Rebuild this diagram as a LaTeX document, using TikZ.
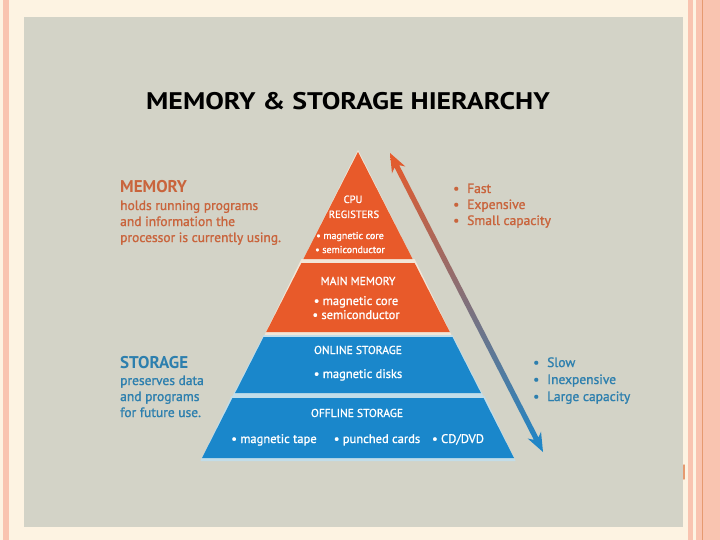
\documentclass[tikz,border=0pt]{standalone}
\usepackage{fontspec}
\setmainfont{PT Sans}
\newfontfamily\semibf[FakeBold=1.2]{PT Sans}
\usetikzlibrary{calc}
\definecolor{slidecream}{HTML}{FDF3E2}
\definecolor{slidesalmon}{HTML}{F9C4B0}
\definecolor{slideline}{HTML}{E69A70}
\definecolor{panelgray}{HTML}{D3D3C7}
\definecolor{memorange}{HTML}{E85A2A}
\definecolor{storblue}{HTML}{1A87CB}
\definecolor{memtext}{HTML}{C9643C}
\definecolor{stortext}{HTML}{2D7FAE}
\definecolor{gapcream}{HTML}{F2E6D8}
\definecolor{gapblue}{HTML}{C2DDE9}
\definecolor{arrmid}{HTML}{8C7C88}
\tikzset{
  sidehead/.style={anchor=base west, inner sep=0pt, font=\fontsize{17}{20}\selectfont\bfseries},
  sideline/.style={anchor=base west, inner sep=0pt, font=\fontsize{13.5}{16}\selectfont\semibf},
  layerhead/.style={anchor=base, inner sep=0pt, text=white, font=\fontsize{11.5}{13}\selectfont\semibf},
  layeritem/.style={anchor=base, inner sep=0pt, text=white, font=\fontsize{12.5}{14}\selectfont\semibf},
  tophead/.style={layerhead, font=\fontsize{10.5}{12}\selectfont\semibf},
  topitem/.style={layeritem, font=\fontsize{10}{12}\selectfont\semibf},
  pointitem/.style={anchor=base west, inner sep=0pt, font=\fontsize{13.5}{15}\selectfont\semibf},
}
\begin{document}
\begin{tikzpicture}[x=1pt,y=-1pt]
\useasboundingbox (0,0) rectangle (720,540);
% slide background and borders
\fill[slidecream] (0,0) rectangle (720,540);
\fill[slidesalmon] (3,0) rectangle (9,540);
\fill[slidesalmon] (688,0) rectangle (693,540);
\fill[slidesalmon] (696,0) rectangle (720,540);
\fill[slideline] (702,0) rectangle (703,540);
\fill[panelgray] (24,17) rectangle (683,527);
\draw[slideline, line width=1.5pt, line cap=round] (684,465) -- (684,479);

% title
\node[anchor=base, inner sep=0pt, xscale=1.16, font=\fontsize{24}{26}\selectfont\bfseries] (title) at (348,110){MEMORY \& STORAGE HIERARCHY};

% pyramid
\fill[gapcream] (358,150) -- (414.6,263) -- (301.4,263) -- cycle;
\fill[gapcream] (301.4,259) -- (414.6,259) -- (452.4,337) -- (263.6,337) -- cycle;
\fill[gapblue] (263.6,335) -- (452.4,335) -- (484.5,398) -- (231.5,398) -- cycle;
\fill[gapblue] (231.5,396) -- (484.5,396) -- (515.5,461) -- (200.5,461) -- cycle;
\fill[memorange] (358,152) -- (412.6,259) -- (303.4,259) -- cycle;
\fill[memorange] (301.4,263) -- (414.6,263) -- (449.8,332) -- (266.2,332) -- cycle;
\fill[storblue] (263.6,337) -- (452.4,337) -- (480.9,393) -- (235.1,393) -- cycle;
\fill[storblue] (232.5,398) -- (483.5,398) -- (514,458) -- (202,458) -- cycle;

% layer texts
\node[tophead] (cpu) at (353,203){CPU};
\node[tophead] (regs) at (354,218){REGISTERS};
\node[topitem] (regcore) at (350,239){• magnetic core};
\node[topitem] (regsemi) at (350,253){• semiconductor};
\node[layerhead] (mainmem) at (358,285){MAIN MEMORY};
\node[layeritem] (maincore) at (356,305){• magnetic core};
\node[layeritem] (mainsemi) at (356,319){• semiconductor};
\node[layerhead] (online) at (358,354){ONLINE STORAGE};
\node[layeritem] (disks) at (358,378){• magnetic disks};
\node[layerhead] (offline) at (357,417){OFFLINE STORAGE};
\node[layeritem] (tape) at (274,443){• magnetic tape};
\node[layeritem] (cards) at (377,443){• punched cards};
\node[layeritem] (cddvd) at (458,443){• CD/DVD};

% side texts
\node[sidehead, text=memtext] (memory) at (120,193){MEMORY};
\node[sideline, text=memtext] (mem1) at (120,210){holds running programs};
\node[sideline, text=memtext] (mem2) at (120,226){and information the};
\node[sideline, text=memtext] (mem3) at (120,242){processor is currently using.};
\node[sidehead, text=stortext] (storage) at (120,368){STORAGE};
\node[sideline, text=stortext] (stor1) at (120,385){preserves data};
\node[sideline, text=stortext] (stor2) at (120,401){and programs};
\node[sideline, text=stortext] (stor3) at (120,417){for future use.};

% fast / slow points
\node[pointitem, text=memtext] (fast) at (453,193){\makebox[14pt][l]{•}Fast};
\node[pointitem, text=memtext] (dear) at (453,209){\makebox[14pt][l]{•}Expensive};
\node[pointitem, text=memtext] (small) at (453,225){\makebox[14pt][l]{•}Small capacity};
\node[pointitem, text=stortext] (slow) at (533,367){\makebox[14pt][l]{•}Slow};
\node[pointitem, text=stortext] (cheap) at (533,384){\makebox[14pt][l]{•}Inexpensive};
\node[pointitem, text=stortext] (large) at (533,401){\makebox[14pt][l]{•}Large capacity};

% speed arrow
\coordinate (arrTop) at (390,153);
\coordinate (arrBot) at (543,452);
\coordinate (tHead) at ($(arrTop)!19pt!(arrBot)$);
\coordinate (tNeck) at ($(arrTop)!15pt!(arrBot)$);
\coordinate (bHead) at ($(arrBot)!19pt!(arrTop)$);
\coordinate (bNeck) at ($(arrBot)!15pt!(arrTop)$);
\shade[top color=memorange, middle color=arrmid, bottom color=storblue]
  (arrTop) -- ($(tHead)!7.5pt!90:(arrBot)$) -- ($(tNeck)!2.6pt!90:(arrBot)$)
  -- ($(bNeck)!2.6pt!-90:(arrTop)$) -- ($(bHead)!7.5pt!-90:(arrTop)$) -- (arrBot)
  -- ($(bHead)!7.5pt!90:(arrTop)$) -- ($(bNeck)!2.6pt!90:(arrTop)$)
  -- ($(tNeck)!2.6pt!-90:(arrBot)$) -- ($(tHead)!7.5pt!-90:(arrBot)$) -- cycle;
\end{tikzpicture}
\end{document}
